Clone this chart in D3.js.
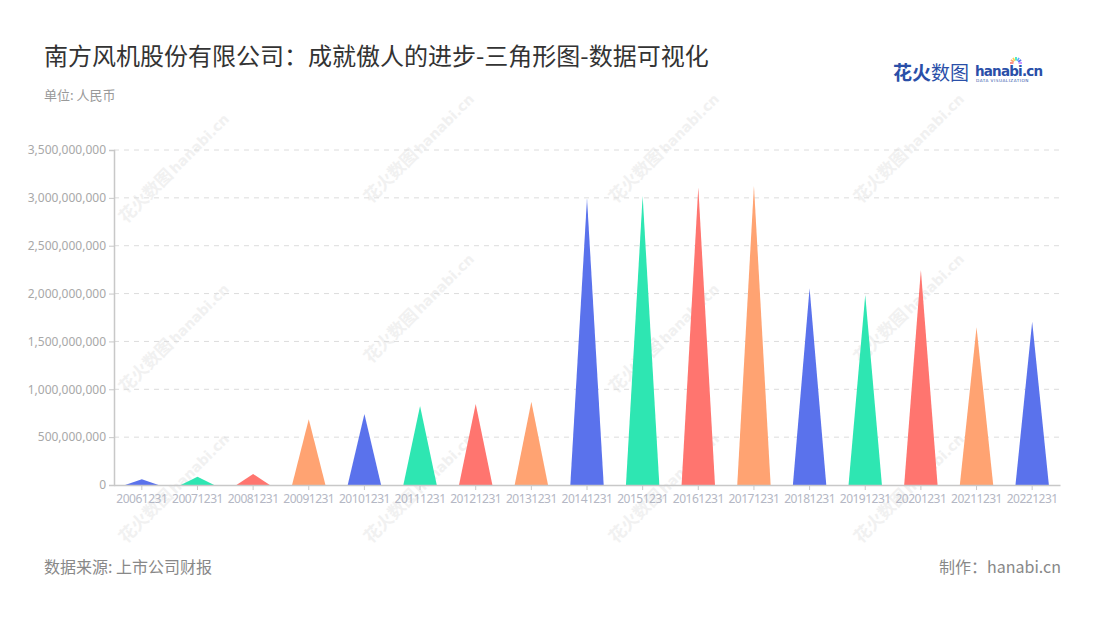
<!DOCTYPE html>
<html><head><meta charset="utf-8">
<script src="https://cdn.jsdelivr.net/npm/d3@7"></script>
<style>body{margin:0;background:#fff;}svg{display:block;font-family:"Noto Sans CJK SC","Noto Sans",sans-serif;}</style>
</head><body><svg id="c" width="1100" height="620"></svg>
<script>
const categories = ["20061231","20071231","20081231","20091231","20101231","20111231","20121231","20131231","20141231","20151231","20161231","20171231","20181231","20191231","20201231","20211231","20221231"];
const values = [60000000,87000000,115000000,686000000,742000000,825000000,846000000,870000000,2995000000,3020000000,3110000000,3127000000,2055000000,1985000000,2246000000,1648000000,1706000000];
const yTicks = [0,500000000,1000000000,1500000000,2000000000,2500000000,3000000000,3500000000];
const palette = ["#5a72ec","#2ee6b2","#ff756f","#ffa372"];
const title = "南方风机股份有限公司：成就傲人的进步-三角形图-数据可视化";
const unit = "单位: 人民币";
const source = "数据来源: 上市公司财报";
const maker = "制作：hanabi.cn";

const svg = d3.select("#c");
const m = {l:114, r:1060, t:150, b:485};

// watermark
const wm = svg.append("g").attr("fill","#f1f1f1").attr("font-weight","bold");
const wmPos = [[150,200],[395,180],[640,180],[885,180],[150,370],[395,340],[640,370],[885,340],[395,520],[640,520],[885,520],[150,520]];
wmPos.forEach(([x,y])=>{
  const g = wm.append("g").attr("transform",`translate(${x},${y}) rotate(-45)`);
  g.append("text").attr("font-size",17).attr("x",-34).attr("y",0).text("花火数图");
  g.append("text").attr("font-size",14).attr("x",36).attr("y",0).attr("font-family","Verdana,DejaVu Sans").text("hanabi.cn");
});

const x = d3.scaleBand().domain(categories).range([m.l,m.r]).padding(0);
const y = d3.scaleLinear().domain([0,3500000000]).range([m.b,m.t]);

// grid
svg.append("g").selectAll("line").data(yTicks.slice(1)).join("line")
  .attr("x1",m.l).attr("x2",m.r).attr("y1",d=>y(d)).attr("y2",d=>y(d))
  .attr("stroke","#dcdcdc").attr("stroke-dasharray","5,5");

// triangles
const w = x.bandwidth()*0.6;
svg.append("g").selectAll("path").data(categories).join("path")
  .attr("d",(c,i)=>{const cx=x(c)+x.bandwidth()/2;return `M${cx-w/2},${y(0)}L${cx},${y(values[i])}L${cx+w/2},${y(0)}Z`;})
  .attr("fill",(c,i)=>palette[i%4]);

// y axis
const ya = svg.append("g").attr("transform",`translate(${m.l},0)`)
  .call(d3.axisLeft(y).tickValues(yTicks).tickFormat(d3.format(",")).tickSize(5).tickPadding(3));
ya.select(".domain").attr("stroke","#c8c8c8").attr("stroke-width",1.5);
ya.selectAll(".tick line").attr("stroke","#c8c8c8");
ya.selectAll("text").attr("fill","#a8a8a8").attr("font-size",12).attr("font-family","Noto Sans, sans-serif");

// x axis
const xa = svg.append("g").attr("transform",`translate(0,${m.b})`)
  .call(d3.axisBottom(x).tickSize(5).tickPadding(4).tickSizeOuter(0));
xa.select(".domain").attr("stroke","#c8c8c8").attr("stroke-width",1.5);
xa.selectAll(".tick line").attr("stroke","#c8c8c8");
xa.selectAll("text").attr("fill","#b4b7c4").attr("font-size",12).attr("letter-spacing",-0.5).attr("font-family","Noto Sans, sans-serif");

// titles
svg.append("text").attr("x",44).attr("y",65).attr("font-size",24).attr("fill","#333").text(title);
svg.append("text").attr("x",44).attr("y",100).attr("font-size",13).attr("fill","#999").text(unit);
svg.append("text").attr("x",44).attr("y",573).attr("font-size",16).attr("fill","#888").text(source);
svg.append("text").attr("x",1061).attr("y",573).attr("text-anchor","end").attr("font-size",16).attr("fill","#888").text(maker);

// logo
const lg = svg.append("g");
lg.append("text").attr("x",893).attr("y",80).attr("font-size",19).attr("font-weight","bold").attr("fill","#2a4fa8").text("花火");
lg.append("text").attr("x",931).attr("y",80).attr("font-size",19).attr("fill","#2a4fa8").text("数图");
lg.append("text").attr("x",975).attr("y",76).attr("font-size",13.5).attr("font-weight","bold").attr("fill","#2a4fa8").attr("font-family","Verdana,DejaVu Sans").attr("letter-spacing",-0.8).text("hanabi.cn");
lg.append("text").attr("x",976).attr("y",82).attr("font-size",4.2).attr("fill","#2a4fa8").attr("font-family","DejaVu Sans").attr("letter-spacing",0.5).text("DATA VISUALIZATION");
const sp = ["#ff756f","#ffa372","#ffd24d","#2ee6b2","#5ab0ff","#5a72ec","#c77dff"];
sp.forEach((c,i)=>{const a=-Math.PI+i*Math.PI/6; lg.append("line").attr("x1",1016+Math.cos(a)*2.5).attr("y1",63+Math.sin(a)*2.5).attr("x2",1016+Math.cos(a)*6).attr("y2",63+Math.sin(a)*6).attr("stroke",c).attr("stroke-width",1.6);});
</script></body></html>
